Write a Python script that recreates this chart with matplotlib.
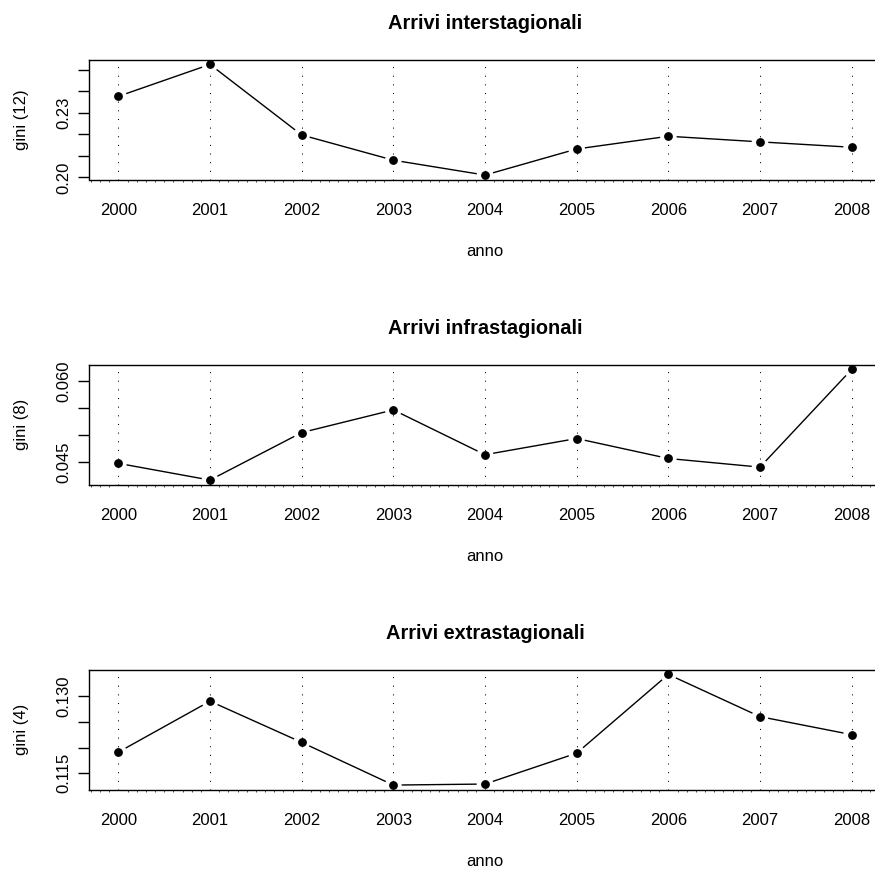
import numpy as np
import matplotlib.pyplot as plt
from matplotlib.ticker import MultipleLocator

# Indici di Gini per anno
anni = [2000, 2001, 2002, 2003, 2004, 2005, 2006, 2007, 2008]
gini_inter = [0.2376, 0.2524, 0.2197, 0.2080, 0.2011, 0.2132, 0.2191, 0.2165, 0.2140]
gini_infra = [0.0448, 0.0417, 0.0505, 0.0547, 0.0464, 0.0494, 0.0457, 0.0441, 0.0622]
gini_extra = [0.1191, 0.1290, 0.1210, 0.1127, 0.1129, 0.1189, 0.1342, 0.1260, 0.1225]

titoli = ["Arrivi interstagionali", "Arrivi infrastagionali", "Arrivi extrastagionali"]
etichette_y = ["gini (12)", "gini (8)", "gini (4)"]

tick_inter = [0.20, 0.21, 0.22, 0.23, 0.24, 0.25]
lab_inter = ["0.20", "", "", "0.23", "", ""]
tick_infra = [0.045, 0.050, 0.055, 0.060]
lab_infra = ["0.045", "", "", "0.060"]
tick_extra = [0.115, 0.120, 0.125, 0.130]
lab_extra = ["0.115", "", "", "0.130"]

plt.rcParams['font.family'] = ['Liberation Sans', 'DejaVu Sans']
plt.rcParams['font.size'] = 12

fig = plt.figure(figsize=(8.75, 8.73), dpi=100)
W, H = 875, 873


def pannello(top, valori, titolo, ylab, ticks, labels):
    # box position in pixels (left, top, right, bottom)
    left, right, bottom = 89, 881, top + 119.5
    ax = fig.add_axes([left / W, (H - bottom) / H, (right - left) / W, (bottom - top) / H])

    ax.plot(anni, valori, 'o', color='black', ms=5.3, zorder=3)
    ax.margins(0.04)
    ax.set_xlim(ax.get_xlim())
    ax.set_ylim(ax.get_ylim())

    # linee spezzate attorno ai punti (come type = "b")
    pts = ax.transData.transform(np.column_stack([anni, valori]))
    inv = ax.transData.inverted()
    gap = 9
    for p, q in zip(pts[:-1], pts[1:]):
        d = q - p
        L = np.hypot(*d)
        if L > 2 * gap:
            u = d / L
            a, b = inv.transform([p + u * gap, q - u * gap])
            ax.plot([a[0], b[0]], [a[1], b[1]], color='black', lw=1.0, zorder=2)

    for a in anni:
        ax.axvline(a, color='black', lw=0.75, ls=(0, (1, 7.3)), zorder=1)

    ax.set_xticks(anni)
    ax.set_xticklabels([str(a) for a in anni])
    ax.xaxis.set_minor_locator(MultipleLocator(0.1))
    ax.tick_params(axis='x', which='major', length=0, pad=17)
    ax.tick_params(axis='x', which='minor', length=1.5, width=0.5, direction='out')

    ax.set_yticks(ticks)
    ax.set_yticklabels(labels, rotation=90, va='center')
    ax.tick_params(axis='y', length=8, width=1.0, pad=5)

    for s in ax.spines.values():
        s.set_linewidth(1.0)
    ax.spines['right'].set_visible(False)

    ax.set_title(titolo, fontweight='bold', fontsize=14.4, pad=22)
    ax.set_xlabel("anno", va='center')
    ax.xaxis.set_label_coords(0.5, -(251 - 179) / 119.5)
    ax.set_ylabel(ylab, va='center', ha='center')
    ax.yaxis.set_label_coords(-(89 - 21.5) / 792, 0.5)
    return ax


pannello(60, gini_inter, titoli[0], etichette_y[0], tick_inter, lab_inter)
pannello(365, gini_infra, titoli[1], etichette_y[1], tick_infra, lab_infra)
pannello(670, gini_extra, titoli[2], etichette_y[2], tick_extra, lab_extra)

fig.savefig("out.png", dpi=100)
